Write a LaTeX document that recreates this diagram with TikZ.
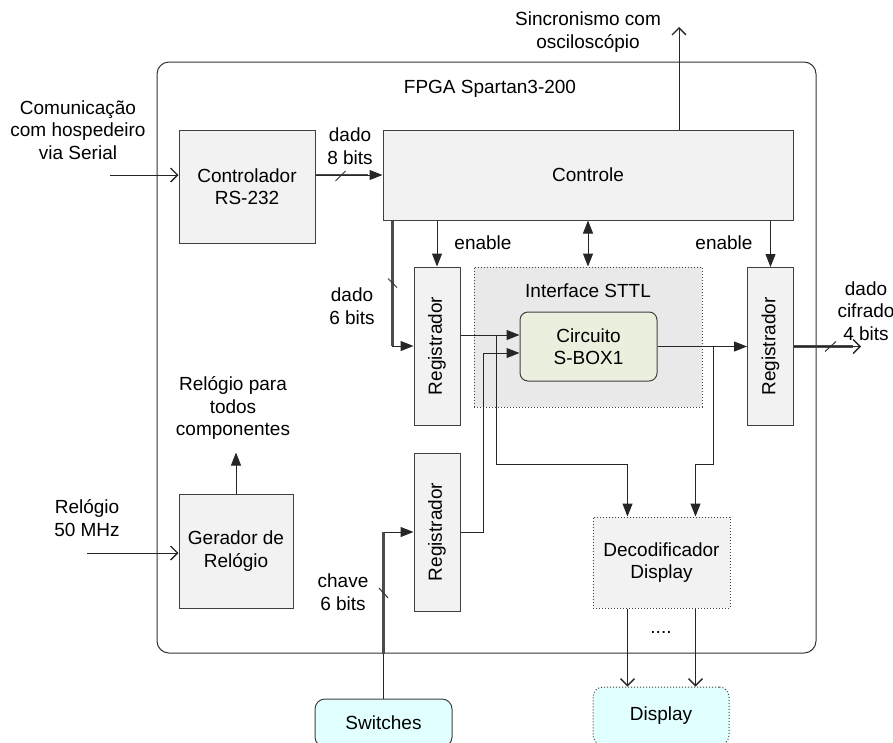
\documentclass[tikz,border=0pt]{standalone}
\usepackage{fontspec}
\setmainfont{Liberation Sans}
\usepackage{xcolor}
\usepackage{tikz}
\usetikzlibrary{positioning,calc,arrows.meta}
\definecolor{boxgray}{RGB}{242,242,242}
\definecolor{sttlgray}{RGB}{233,233,233}
\definecolor{sboxgreen}{RGB}{235,239,221}
\definecolor{ioblue}{RGB}{226,255,255}

\begin{document}
\begin{tikzpicture}[x=1pt,y=1pt,font=\fontsize{19}{22.5}\selectfont,
	blk/.style={draw=black!75,fill=boxgray,line width=1pt,align=center,inner sep=0pt},
	regbox/.style={blk,minimum width=46pt,minimum height=158pt},
	lbl/.style={align=center,inner sep=0pt},
	wire/.style={line width=1pt,draw=black!85},
	bus/.style={line width=2.2pt,draw=black!70},
	tick/.style={line width=1pt,draw=black!80},
	fillarr/.style={-{Triangle[length=13pt,width=10pt]}},
	openarr/.style={-{Straight Barb[length=7pt,width=14pt,line width=1.3pt]}}]
		\useasboundingbox (0,0) rectangle (893,-742);
		% FPGA
		\node[draw=black!80,line width=1pt,rounded corners=12pt,minimum width=659pt,minimum height=591pt] (fpga) at (486.5,-357.5) {};
		\node[lbl] (fpganame) at (490,-89) {FPGA Spartan3-200};
		
		\node[blk,minimum width=136pt,minimum height=113pt] (rs) at (247,-186.5) {Controlador\\RS-232};
		\node[blk,minimum width=410pt,minimum height=90pt] (ctrl) at (588,-175) {Controle};
		\node[regbox] (reg1) at (437,-346) {\rotatebox{90}{Registrador}};
		\node[regbox,below=27pt of reg1] (reg2) {\rotatebox{90}{Registrador}};
		\node[regbox] (reg3) at (770.5,-346.5) {\rotatebox{90}{Registrador}};
		\node[blk,dotted,fill=sttlgray,minimum width=228pt,minimum height=140pt] (sttl) at (588,-337) {};
		\node[lbl] (sttlname) at (588,-291) {Interface STTL};
		\node[blk,fill=sboxgreen,rounded corners=8pt,minimum width=137pt,minimum height=69pt] (sbox) at (588.5,-346.5) {Circuito\\S-BOX1};
		\node[blk,dotted,minimum width=137pt,minimum height=91pt] (dec) at (661.5,-562.5) {Decodificador\\Display};
		\node[blk,minimum width=114pt,minimum height=114pt] (gen) at (236,-551) {Gerador de\\Relógio};
		\node[blk,fill=ioblue,rounded corners=10pt,minimum width=137pt,minimum height=48pt] (sw) at (383.5,-723) {Switches};
		\node[blk,dotted,fill=ioblue,rounded corners=10pt,minimum width=136pt,minimum height=58pt] (disp) at (661,-716) {Display};
		
		% textos
		\node[lbl] (hostlbl) at (78,-130) {Comunicação\\com hospedeiro\\via Serial};
		\node[lbl] (d8lbl) at (350,-146) {dado\\8 bits};
		\node[lbl] (synclbl) at (588,-32) {Sincronismo com\\osciloscópio};
		\node[lbl] (en1lbl) at (483,-243) {enable};
		\node[lbl] (en3lbl) at (724,-243) {enable};
		\node[lbl] (d6lbl) at (352,-306) {dado\\6 bits};
		\node[lbl] (d4lbl) at (866,-311) {dado\\cifrado\\4 bits};
		\node[lbl] (clklbl) at (233,-408) {Relógio para\\todos\\componentes};
		\node[lbl] (clkinlbl) at (87,-518) {Relógio\\50 MHz};
		\node[lbl] (chlbl) at (343,-592) {chave\\6 bits};
		\node[lbl] (dots) at (661,-632) {....};
		
		% entradas e saidas externas
		\coordinate (hostin) at (110,-175);
		\draw[wire,openarr] (hostin)--(rs.west |- hostin);
		\coordinate (clksrc) at (87,-553);
		\draw[wire,openarr] (clksrc)--(gen.west |- clksrc);
		\coordinate (syncout) at (679,-27);
		\draw[wire,openarr] (syncout |- ctrl.north)--(syncout);
		\draw[wire,fillarr] (gen.north)--++(0,41);
		
		% barramentos
		\draw[bus] (rs.east |- ctrl.west)--++(52,0);
		\draw[wire,fillarr] (rs.east |- ctrl.west)--(ctrl.west);
		\draw[tick] ($(rs.east |- ctrl.west)+(20,-6)$)--++(10,10);
		\coordinate[shift={(10,0)}] (d6src) at (ctrl.south west);
		\draw[wire,fillarr] (d6src) |- (reg1.west);
		\draw[bus] (d6src)--(d6src |- reg1.west);
		\draw[tick] ($(d6src)+(-4.5,-58)$)--++(9,-9);
		\draw[wire,fillarr] (sw.north) |- (reg2.west);
		\draw[bus] (sw.north |- reg2.west)--(sw.north |- fpga.south);
		\draw[tick] ($(sw.north |- reg2.west)+(-4.5,-56)$)--++(9,-10);
		\coordinate[shift={(67,0)}] (d4out) at (reg3.east);
		\draw[bus] (reg3.east)--($(d4out)+(-8,0)$);
		\draw[wire,openarr] (reg3.east)--(d4out);
		\draw[tick] ($(reg3.east)+(31,-5)$)--++(11,10);
		
		% enable
		\draw[wire,fillarr] (reg1.north |- ctrl.south)--(reg1.north);
		\draw[wire,fillarr] (reg3.north |- ctrl.south)--(reg3.north);
		\draw[wire,{Triangle[length=13pt,width=10pt]}-{Triangle[length=13pt,width=10pt]}] (sttl.north |- ctrl.south)--(sttl.north);
		
		% caminho de dados
		\coordinate (busrow) at (0,-464);
		\coordinate[shift={(-34,0)}] (decin1) at (dec.north);
		\coordinate[shift={(34,0)}] (decin2) at (dec.north);
		\coordinate[shift={(0,11)}] (r1out) at (reg1.east);
		\coordinate[shift={(0,-6.5)}] (sin2) at (sbox.west);
		\draw[wire,fillarr] (r1out)--(sbox.west |- r1out);
		\coordinate[shift={(36,0)}] (br1) at (r1out);
		\draw[wire,fillarr] (br1)--(br1 |- busrow) -| (decin1);
		\draw[wire,fillarr] (reg2.east)--++(23,0) |- (sin2);
		\draw[wire,fillarr] (sbox.east)--(reg3.west);
		\coordinate[shift={(56,0)}] (br2) at (sbox.east);
		\draw[wire,fillarr] (br2)--(br2 |- busrow) -| (decin2);
		
		% display
		\draw[wire,openarr] (decin1 |- dec.south)--(decin1 |- disp.north);
		\draw[wire,openarr] (decin2 |- dec.south)--(decin2 |- disp.north);
	\end{tikzpicture}
\end{document}
